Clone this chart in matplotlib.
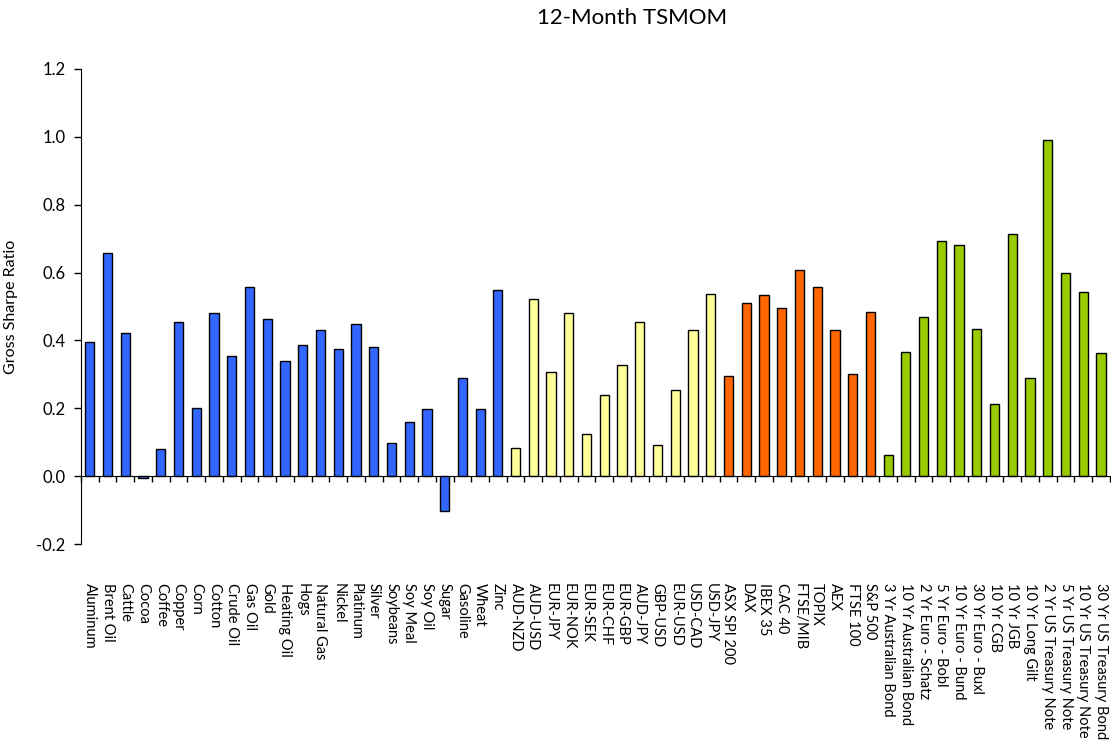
import numpy as np
import matplotlib
matplotlib.use("Agg")
import matplotlib.pyplot as plt

# categories per asset class
commodities = ["Aluminum", "Brent Oil", "Cattle", "Cocoa", "Coffee", "Copper", "Corn",
               "Cotton", "Crude Oil", "Gas Oil", "Gold", "Heating Oil", "Hogs",
               "Natural Gas", "Nickel", "Platinum", "Silver", "Soybeans", "Soy Meal",
               "Soy Oil", "Sugar", "Gasoline", "Wheat", "Zinc"]
currencies = ["AUD-NZD", "AUD-USD", "EUR-JPY", "EUR-NOK", "EUR-SEK", "EUR-CHF",
              "EUR-GBP", "AUD-JPY", "GBP-USD", "EUR-USD", "USD-CAD", "USD-JPY"]
equities = ["ASX SPI 200", "DAX", "IBEX 35", "CAC 40", "FTSE/MIB", "TOPIX", "AEX",
            "FTSE 100", "S&P 500"]
bonds = ["3 Yr Australian Bond", "10 Yr Australian Bond", "2 Yr Euro - Schatz",
         "5 Yr Euro - Bobl", "10 Yr Euro - Bund", "30 Yr Euro - Buxl", "10 Yr CGB",
         "10 Yr JGB", "10 Yr Long Gilt", "2 Yr US Treasury Note", "5 Yr US Treasury Note",
         "10 Yr US Treasury Note", "30 Yr US Treasury Bond"]

# gross sharpe ratios
commodity_sr = [0.394, 0.657, 0.422, -0.005, 0.079, 0.455, 0.202, 0.480, 0.353, 0.557,
                0.464, 0.340, 0.386, 0.431, 0.374, 0.447, 0.382, 0.099, 0.161, 0.197,
                -0.102, 0.288, 0.197, 0.550]
currency_sr = [0.083, 0.522, 0.308, 0.480, 0.124, 0.238, 0.329, 0.455, 0.091, 0.255,
               0.431, 0.538]
equity_sr = [0.295, 0.509, 0.534, 0.497, 0.607, 0.558, 0.431, 0.300, 0.485]
bond_sr = [0.062, 0.366, 0.468, 0.693, 0.681, 0.435, 0.214, 0.714, 0.288, 0.992,
           0.599, 0.542, 0.362]

groups = [
    (commodities, commodity_sr, "#3366FF"),
    (currencies, currency_sr, "#FFFF99"),
    (equities, equity_sr, "#FF6600"),
    (bonds, bond_sr, "#99CC00"),
]

plt.rcParams["font.family"] = ["Lato", "DejaVu Sans"]
plt.rcParams["axes.unicode_minus"] = False

fig = plt.figure(figsize=(11.11, 7.48), dpi=100)
ax = fig.add_axes([0.0729, 0.2727, 0.9261, 0.6351])

labels = []
start = 0
for names, vals, col in groups:
    x = np.arange(start, start + len(names))
    ax.bar(x, vals, width=0.52, color=col, edgecolor="black", linewidth=1, zorder=2)
    labels += names
    start += len(names)

n = len(labels)
ax.set_xlim(-0.5, n - 0.5)
ax.set_ylim(-0.2, 1.2)
ax.set_yticks(np.arange(-0.2, 1.21, 0.2))
ax.set_yticklabels([f"{v:.1f}" for v in np.arange(-0.2, 1.21, 0.2)], fontsize=12)
ax.tick_params(axis="y", direction="out", length=5, width=1, pad=6)
ax.set_ylabel("Gross Sharpe Ratio", fontsize=11.5)
ax.yaxis.set_label_coords(-0.061, 0.5)

for s in ["top", "right"]:
    ax.spines[s].set_visible(False)
ax.spines["bottom"].set_position(("data", 0))
ax.spines["bottom"].set_zorder(3)
ax.set_xticks(np.arange(-0.5, n, 1))
ax.set_xticklabels([])
ax.tick_params(axis="x", direction="out", length=4, width=1)

# category labels sit below the plot area
sec = ax.secondary_xaxis("bottom")
sec.set_xticks(np.arange(n))
sec.set_xticklabels(labels, rotation=-90, fontsize=10.5, va="top", ha="center")
sec.tick_params(length=0, pad=28)
sec.spines["bottom"].set_visible(False)

fig.text(0.569, 0.976, "12-Month TSMOM", ha="center", va="center", fontsize=16)

fig.savefig("out.png", dpi=100)
